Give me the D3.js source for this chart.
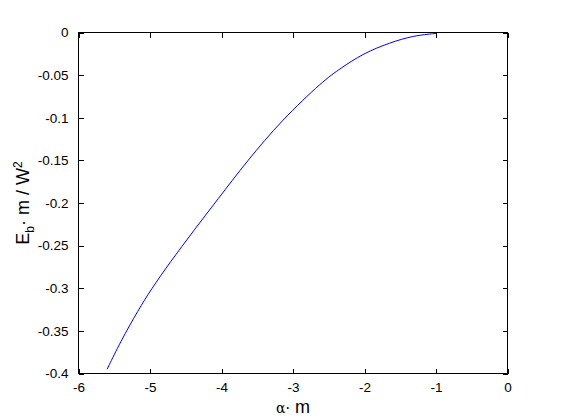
<!DOCTYPE html>
<html>
<head>
<meta charset="utf-8">
<script src="https://cdn.jsdelivr.net/npm/d3@7"></script>
<style>
  body { margin: 0; background: #fff; }
  .axis text { font-family: Arial, "Liberation Sans", sans-serif; font-size: 13.5px; fill: #000; }
  .axis path, .axis line { stroke: #000; }
</style>
</head>
<body>
<div id="vis"></div>
<script>
// Values
var alphaM = [-5.60, -5.415, -5.16, -4.99, -4.72, -4.39, -4.06, -3.645, -3.155, -2.575, -2.342, -2.017, -1.644, -1.318, -0.99];
var energy = [-0.395, -0.363, -0.325, -0.302, -0.2695, -0.2325, -0.1965, -0.151, -0.1025, -0.0564, -0.0425, -0.0244, -0.0119, -0.0037, -0.001];
var xTicks = [-6, -5, -4, -3, -2, -1, 0];
var yTicks = [0, -0.05, -0.1, -0.15, -0.2, -0.25, -0.3, -0.35, -0.4];

var width = 561,
    height = 420,
    margin = { top: 32.5, right: 53.5, bottom: 46.5, left: 78.5 },
    drawWidth = width - margin.left - margin.right,
    drawHeight = height - margin.top - margin.bottom;

var data = alphaM.map(function (d, i) {
    return { x: d, y: energy[i] };
});

var svg = d3.select("#vis").append("svg")
    .attr("width", width)
    .attr("height", height);

var g = svg.append("g")
    .attr("transform", "translate(" + margin.left + "," + margin.top + ")");

var x = d3.scaleLinear().domain([-6, 0]).range([0, drawWidth]);
var y = d3.scaleLinear().domain([-0.4, 0]).range([drawHeight, 0]);

var fmt = function (d) { return String(+d.toFixed(2)); };

// bottom axis, ticks pointing in
g.append("g")
    .attr("class", "axis")
    .attr("transform", "translate(0," + drawHeight + ")")
    .call(d3.axisBottom(x).tickValues(xTicks).tickSizeInner(-5).tickSizeOuter(0).tickPadding(9).tickFormat(fmt))
    .call(function (s) { s.select(".domain").remove(); });

// left axis
g.append("g")
    .attr("class", "axis")
    .call(d3.axisLeft(y).tickValues(yTicks).tickSizeInner(-5).tickSizeOuter(0).tickPadding(10).tickFormat(fmt))
    .call(function (s) { s.select(".domain").remove(); });

// top and right ticks (no labels)
g.append("g")
    .attr("class", "axis")
    .call(d3.axisTop(x).tickValues(xTicks).tickSizeInner(-5).tickSizeOuter(0).tickFormat(""))
    .call(function (s) { s.select(".domain").remove(); });

g.append("g")
    .attr("class", "axis")
    .attr("transform", "translate(" + drawWidth + ",0)")
    .call(d3.axisRight(y).tickValues(yTicks).tickSizeInner(-5).tickSizeOuter(0).tickFormat(""))
    .call(function (s) { s.select(".domain").remove(); });

// box
g.append("rect")
    .attr("x", 0)
    .attr("y", 0)
    .attr("width", drawWidth)
    .attr("height", drawHeight)
    .attr("fill", "none")
    .attr("stroke", "#000")
    .attr("stroke-width", 1)
    .attr("shape-rendering", "crispEdges");

g.selectAll(".axis line").attr("shape-rendering", "crispEdges");

var line = d3.line()
    .x(function (d) { return x(d.x); })
    .y(function (d) { return y(d.y); })
    .curve(d3.curveBasis);

g.append("path")
    .datum(data)
    .attr("d", line)
    .attr("fill", "none")
    .attr("stroke", "#0000ff")
    .attr("stroke-width", 1);

// x label
var xl = svg.append("text")
    .attr("x", margin.left + drawWidth / 2)
    .attr("y", 413)
    .attr("text-anchor", "middle")
    .style("font-family", "Arial, 'Liberation Sans', sans-serif")
    .style("font-size", "18px");
xl.append("tspan").style("font-size", "14px").style("font-family", "'DejaVu Serif', serif").text("α·");
xl.append("tspan").text(" m");

// y label
var yl = svg.append("text")
    .attr("transform", "translate(29," + (margin.top + drawHeight / 2) + ") rotate(-90)")
    .attr("text-anchor", "middle")
    .style("font-family", "Arial, 'Liberation Sans', sans-serif")
    .style("font-size", "18px");
yl.append("tspan").text("E");
yl.append("tspan").attr("dy", 5).style("font-size", "12px").text("b");
yl.append("tspan").attr("dy", -5).text("· m / W");
yl.append("tspan").attr("dy", -7).style("font-size", "12px").text("2");
</script>
</body>
</html>
